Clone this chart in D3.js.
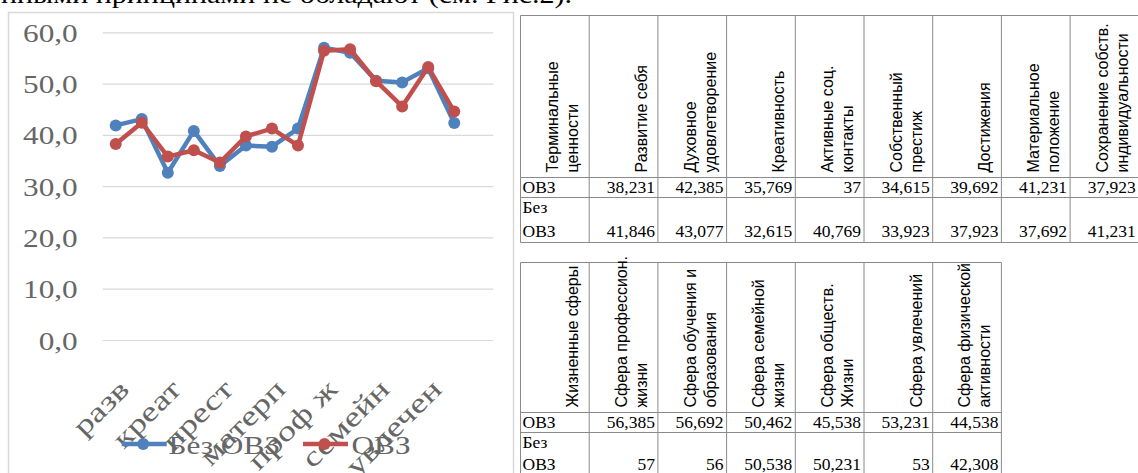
<!DOCTYPE html>
<html>
<head>
<meta charset="utf-8">
<script src="https://cdn.jsdelivr.net/npm/d3@7"></script>
<style>
  html, body { margin: 0; padding: 0; background: #fff; }
  svg { display: block; }
</style>
</head>
<body>
<svg id="page" width="1138" height="473"></svg>
<script>
// Short category names on the chart axis (terminal values, then life spheres)
const categories = ["разв", "дух", "креат", "акт", "прест", "дост", "матерп", "сохр",
                    "проф ж", "обуч", "семейн", "общ", "увлечен", "физ"];
const yTicks = [0, 10, 20, 30, 40, 50, 60];
const seriesNames = ["Без ОВЗ", "ОВЗ"];

// Terminal values table
const termHeaders = [["Терминальные", "ценности"], ["Развитие себя"], ["Духовное", "удовлетворение"],
  ["Креативность"], ["Активные соц.", "контакты"], ["Собственный", "престиж"], ["Достижения"],
  ["Материальное", "положение"], ["Сохранение собств.", "индивидуальности"]];
const termOVZ   = [38.231, 42.385, 35.769, 37, 34.615, 39.692, 41.231, 37.923];
const termNoOVZ = [41.846, 43.077, 32.615, 40.769, 33.923, 37.923, 37.692, 41.231];

// Life spheres table
const sphereHeaders = [["Жизненные сферы"], ["Сфера профессион.", "жизни"], ["Сфера обучения и", "образования"],
  ["Сфера семейной", "жизни"], ["Сфера обществ.", "Жизни"], ["Сфера увлечений"], ["Сфера физической", "активности"]];
const sphereOVZ   = [56.385, 56.692, 50.462, 45.538, 53.231, 44.538];
const sphereNoOVZ = [57, 56, 50.538, 50.231, 53, 42.308];

const rowLabels = [["ОВЗ"], ["Без", "ОВЗ"]];

const valuesNoOVZ = termNoOVZ.concat(sphereNoOVZ);
const valuesOVZ = termOVZ.concat(sphereOVZ);
const colors = ["#4F81BD", "#C0504D"];

const svg = d3.select("#page");

// Running text line above the figure
svg.append("text")
  .attr("x", 1).attr("y", 3)
  .attr("textLength", 571).attr("lengthAdjust", "spacingAndGlyphs")
  .style("font-family", "'Liberation Serif', 'Times New Roman', serif")
  .style("font-size", "25px").style("fill", "#000")
  .text("нными принципами не обладают (см. Рис.2).");

// ---------- Line chart ----------
const chartFont = "'Liberation Serif', 'Times New Roman', serif";
const labelColor = "#666666";
const stretch = 1.25;

svg.append("rect")
  .attr("x", 8.5).attr("y", 12.5).attr("width", 505).attr("height", 480)
  .attr("fill", "#fff").attr("stroke", "#d9d9d9").attr("stroke-width", 1.5);

const plot = { left: 102.7, right: 493.3, top: 32.3, bottom: 340 };
const slots = d3.range(categories.length + 1);   // one empty slot at the end
const x = d3.scaleBand().domain(slots).range([plot.left, plot.right]);
const y = d3.scaleLinear().domain([0, 60]).range([plot.bottom, plot.top]);
const cx = i => x(i) + x.bandwidth() / 2;

// Y axis with gridlines
const yAxis = svg.append("g")
  .attr("transform", `translate(${plot.left},0)`)
  .call(d3.axisLeft(y).tickValues(yTicks).tickSize(-(plot.right - plot.left))
    .tickFormat(d => d3.format(".1f")(d).replace(".", ",")));
yAxis.select(".domain").remove();
yAxis.selectAll(".tick line").attr("stroke", "#d9d9d9").attr("stroke-width", 1.2);
yAxis.selectAll(".tick text")
  .attr("x", 0).attr("dy", null)
  .attr("transform", `translate(-25,9) scale(${stretch},1)`)
  .attr("text-anchor", "end")
  .style("font-family", chartFont).style("font-size", "25px").style("fill", labelColor);

// X axis: rotated labels, every second category
const xAxis = svg.append("g")
  .attr("transform", `translate(0,${plot.bottom})`)
  .call(d3.axisBottom(x).tickSize(0)
    .tickFormat(i => (i % 2 === 0 && i < categories.length) ? categories[i] : ""));
xAxis.select(".domain").remove();
xAxis.selectAll(".tick text")
  .attr("x", 0).attr("y", 0).attr("dy", null)
  .attr("transform", `translate(15,51) rotate(-45) scale(1.3,1)`)
  .attr("text-anchor", "end")
  .style("font-family", chartFont).style("font-size", "28px").style("fill", labelColor);

// Series lines with markers
const line = d3.line().x((d, i) => cx(i)).y(d => y(d));
[valuesNoOVZ, valuesOVZ].forEach((vals, s) => {
  const g = svg.append("g");
  g.append("path").datum(vals)
    .attr("d", line).attr("fill", "none")
    .attr("stroke", colors[s]).attr("stroke-width", 4.5)
    .attr("stroke-linejoin", "round").attr("stroke-linecap", "round");
  g.selectAll("circle").data(vals).join("circle")
    .attr("cx", (d, i) => cx(i)).attr("cy", d => y(d)).attr("r", 6)
    .attr("fill", colors[s]);
});

// Legend
const legendItems = [{ x0: 121.7, tx: 168.5 }, { x0: 303, tx: 351.5 }];
legendItems.forEach((it, s) => {
  const g = svg.append("g");
  g.append("line").attr("x1", it.x0).attr("x2", it.x0 + 45).attr("y1", 444).attr("y2", 444)
    .attr("stroke", colors[s]).attr("stroke-width", 4.5);
  g.append("circle").attr("cx", it.x0 + 21.5).attr("cy", 444).attr("r", 6).attr("fill", colors[s]);
  g.append("text")
    .attr("transform", `translate(${it.tx},454) scale(${stretch},1)`)
    .style("font-family", chartFont).style("font-size", "25px").style("fill", labelColor)
    .text(seriesNames[s]);
});

// ---------- Tables ----------
const fmt = v => String(v).replace(".", ",");
const colW = 68.7;
const tableLine = "#8a8a8a";
const serif = "'Liberation Serif', 'Times New Roman', serif";
const sans = "'Liberation Sans', Arial, sans-serif";

function drawTable(opt) {
  const { x0, top, headBottom, row1Bottom, bottom, lastBase, headers, ovz, noOvz } = opt;
  const g = svg.append("g");
  const nCols = headers.length;
  const xs = d3.range(nCols + 1).map(i => x0 + i * colW);

  // horizontal rules
  [top, headBottom, row1Bottom, bottom].forEach(yy => {
    g.append("line").attr("x1", xs[0]).attr("x2", xs[nCols]).attr("y1", yy).attr("y2", yy)
      .attr("stroke", tableLine).attr("stroke-width", 1);
  });
  // vertical rules
  xs.forEach(xx => {
    g.append("line").attr("x1", xx).attr("x2", xx).attr("y1", top).attr("y2", bottom)
      .attr("stroke", tableLine).attr("stroke-width", 1);
  });

  // rotated header text, bottom-aligned
  headers.forEach((lines, c) => {
    const right = xs[c + 1];
    lines.forEach((t, k) => {
      const bx = right - 11 - (lines.length - 1 - k) * 20;
      g.append("text")
        .attr("transform", `translate(${bx},${headBottom - 5}) rotate(-90)`)
        .style("font-family", sans).style("font-size", "16px").style("fill", "#000")
        .text(t);
    });
  });

  // row labels
  const rowBase = [[row1Bottom - 5], [row1Bottom + 15, lastBase]];
  rowLabels.forEach((lines, r) => {
    lines.forEach((t, k) => {
      g.append("text").attr("x", xs[0] + 2).attr("y", rowBase[r][k])
        .style("font-family", serif).style("font-size", "17.5px").style("fill", "#000")
        .text(t);
    });
  });

  // values
  [ovz, noOvz].forEach((vals, r) => {
    const yy = r === 0 ? row1Bottom - 5 : lastBase;
    vals.forEach((v, i) => {
      g.append("text").attr("x", xs[i + 2] - 3).attr("y", yy)
        .attr("text-anchor", "end")
        .style("font-family", serif).style("font-size", "17.5px").style("fill", "#000")
        .text(fmt(v));
    });
  });
}

drawTable({ x0: 520.5, top: 15.5, headBottom: 177.5, row1Bottom: 197.5, bottom: 242.5, lastBase: 237,
  headers: termHeaders, ovz: termOVZ, noOvz: termNoOVZ });
drawTable({ x0: 520.5, top: 262.5, headBottom: 412.5, row1Bottom: 432.5, bottom: 477.5, lastBase: 469.5,
  headers: sphereHeaders, ovz: sphereOVZ, noOvz: sphereNoOVZ });
</script>
</body>
</html>
